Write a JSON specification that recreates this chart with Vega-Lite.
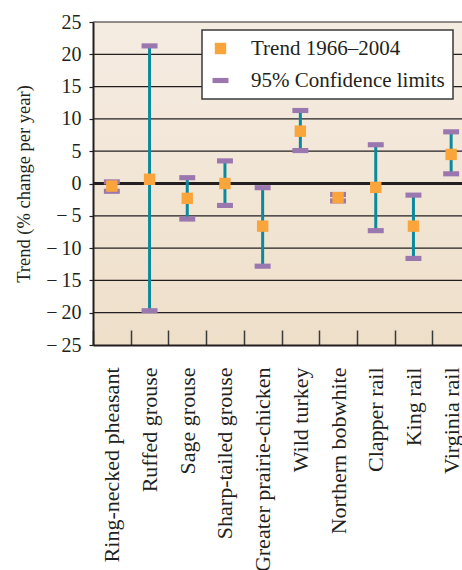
{
  "$schema": "https://vega.github.io/schema/vega-lite/v6.json",
  "width": 369,
  "height": 323,
  "autosize": {"type": "none"},
  "padding": {"left": 93, "top": 22, "right": 0, "bottom": 225},
  "background": "#ffffff",
  "datasets": {
    "birds": [
      {"species": "Ring-necked pheasant", "trend": -0.4, "lo": -1.2, "hi": 0.25},
      {"species": "Ruffed grouse", "trend": 0.65, "lo": -19.7, "hi": 21.3},
      {"species": "Sage grouse", "trend": -2.3, "lo": -5.5, "hi": 0.9},
      {"species": "Sharp-tailed grouse", "trend": 0.0, "lo": -3.4, "hi": 3.5},
      {"species": "Greater prairie-chicken", "trend": -6.6, "lo": -12.8, "hi": -0.65},
      {"species": "Wild turkey", "trend": 8.1, "lo": 5.1, "hi": 11.3},
      {"species": "Northern bobwhite", "trend": -2.2, "lo": -2.7, "hi": -1.7},
      {"species": "Clapper rail", "trend": -0.6, "lo": -7.3, "hi": 6.0},
      {"species": "King rail", "trend": -6.6, "lo": -11.6, "hi": -1.8},
      {"species": "Virginia rail", "trend": 4.5, "lo": 1.5, "hi": 8.0}
    ],
    "grid": [
      {"v": -20}, {"v": -15}, {"v": -10}, {"v": -5},
      {"v": 5}, {"v": 10}, {"v": 15}, {"v": 20}, {"v": 25}
    ]
  },
  "layer": [
    {
      "data": {"values": [{}]},
      "mark": {
        "type": "rect",
        "color": {
          "gradient": "linear",
          "x1": 0, "y1": 0, "x2": 0, "y2": 1,
          "stops": [
            {"offset": 0, "color": "#f5ece2"},
            {"offset": 1, "color": "#eedfc9"}
          ]
        }
      },
      "encoding": {
        "y": {
          "datum": 25,
          "type": "quantitative",
          "scale": {"domain": [-25, 25], "nice": false, "zero": false}
        },
        "y2": {"datum": -25}
      }
    },
    {
      "data": {"name": "grid"},
      "mark": {"type": "rule", "color": "#231f20", "strokeWidth": 1.2},
      "encoding": {
        "y": {
          "field": "v",
          "type": "quantitative",
          "axis": {
            "title": "Trend (% change per year)",
            "tickCount": 10,
            "labelOverlap": false,
            "labelBound": false,
            "labelExpr": "datum.value < 0 ? '\u2212\u2009' + abs(datum.value) : '' + datum.value",
            "grid": false,
            "tickSize": 4,
            "tickColor": "#231f20",
            "tickWidth": 1.2,
            "domainColor": "#231f20",
            "domainWidth": 2,
            "labelFont": "Liberation Serif",
            "labelFontSize": 20,
            "labelColor": "#231f20",
            "labelPadding": 8,
            "titleFont": "Liberation Serif",
            "titleFontSize": 18.5,
            "titleFontWeight": "normal",
            "titleColor": "#231f20",
            "titlePadding": 12,
            "zindex": 1
          }
        }
      }
    },
    {
      "data": {"values": [{}]},
      "mark": {"type": "rule", "color": "#231f20", "strokeWidth": 3},
      "encoding": {"y": {"datum": 0, "type": "quantitative"}}
    },
    {
      "data": {"name": "birds"},
      "mark": {"type": "rule", "color": "#0b8a9e", "strokeWidth": 3},
      "encoding": {
        "x": {
          "field": "species",
          "type": "nominal",
          "sort": null,
          "scale": {"range": [0, 377], "paddingInner": 0, "paddingOuter": 0},
          "axis": {
            "title": null,
            "labelAngle": -90,
            "labelAlign": "right",
            "labelBaseline": "middle",
            "labelFont": "Liberation Serif",
            "labelFontSize": 22,
            "labelColor": "#231f20",
            "labelLimit": 400,
            "labelPadding": 37,
            "tickBand": "extent",
            "tickSize": -15,
            "tickColor": "#3a3a3a",
            "tickWidth": 1.5,
            "domainColor": "#231f20",
            "domainWidth": 2,
            "grid": false,
            "zindex": 1
          }
        },
        "y": {"field": "lo", "type": "quantitative"},
        "y2": {"field": "hi"}
      }
    },
    {
      "data": {"name": "birds"},
      "mark": {"type": "point", "filled": true, "opacity": 1, "size": 130},
      "encoding": {
        "x": {"field": "species", "type": "nominal", "sort": null},
        "y": {"field": "lo", "type": "quantitative"},
        "color": {"datum": "95% Confidence limits"},
        "shape": {"datum": "95% Confidence limits"}
      }
    },
    {
      "data": {"name": "birds"},
      "mark": {"type": "point", "filled": true, "opacity": 1, "size": 130},
      "encoding": {
        "x": {"field": "species", "type": "nominal", "sort": null},
        "y": {"field": "hi", "type": "quantitative"},
        "color": {"datum": "95% Confidence limits"},
        "shape": {"datum": "95% Confidence limits"}
      }
    },
    {
      "data": {"name": "birds"},
      "mark": {"type": "point", "filled": true, "opacity": 1, "size": 130},
      "encoding": {
        "x": {"field": "species", "type": "nominal", "sort": null},
        "y": {"field": "trend", "type": "quantitative"},
        "color": {
          "datum": "Trend 1966–2004",
          "scale": {
            "domain": ["Trend 1966–2004", "95% Confidence limits"],
            "range": ["#f9a53b", "#9b77b0"]
          },
          "legend": {"title": null}
        },
        "shape": {
          "datum": "Trend 1966–2004",
          "scale": {
            "domain": ["Trend 1966–2004", "95% Confidence limits"],
            "range": ["square", "M-1.4,-0.45H1.4V0.45H-1.4Z"]
          },
          "legend": {"title": null}
        }
      }
    }
  ],
  "config": {
    "view": {"stroke": null},
    "legend": {
      "orient": "none",
      "legendX": 109,
      "legendY": 8,
      "fillColor": "#ffffff",
      "strokeColor": "#3a3a3a",
      "strokeWidth": 1.5,
      "padding": 8,
      "labelFont": "Liberation Serif",
      "labelFontSize": 21,
      "labelColor": "#231f20",
      "labelOffset": 20,
      "labelLimit": 400,
      "rowPadding": 10,
      "symbolSize": 130,
      "symbolStrokeWidth": 0,
      "symbolOpacity": 1
    }
  }
}
